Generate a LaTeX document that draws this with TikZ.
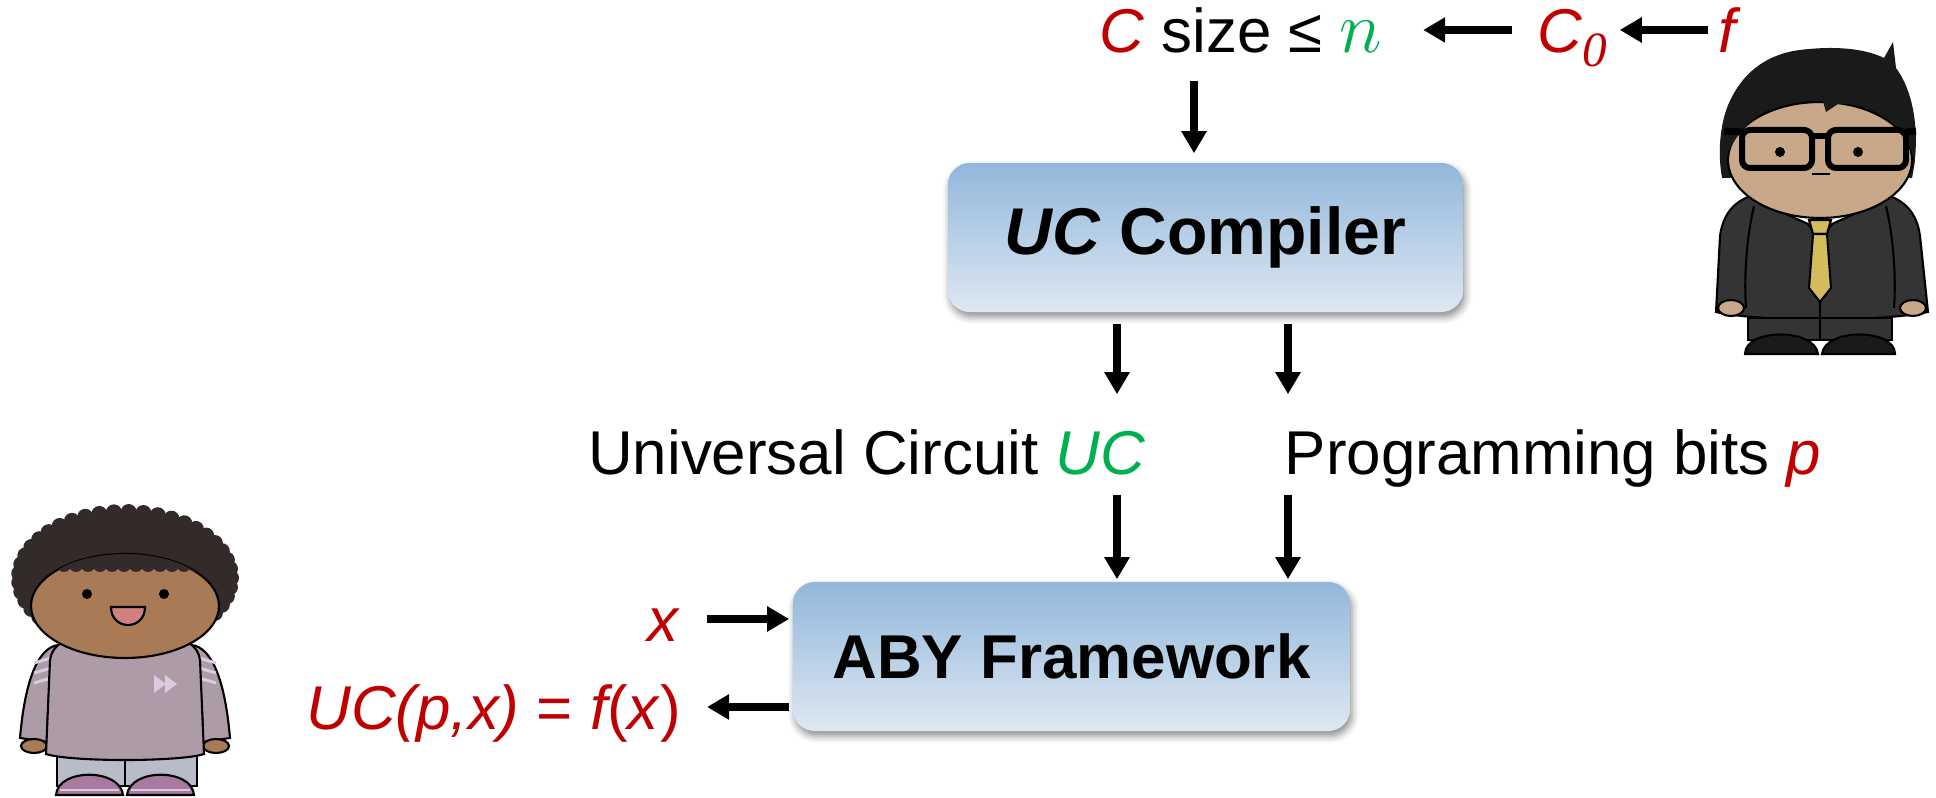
\documentclass[tikz,border=0pt]{standalone}
\usepackage{fontspec}
\setmainfont{Liberation Sans}
\newfontfamily\subfont{Liberation Serif}
\usetikzlibrary{arrows.meta,shadows.blur}
\definecolor{ucred}{RGB}{192,0,0}
\definecolor{ucgreen}{RGB}{0,176,80}
\definecolor{boxtop}{RGB}{146,183,219}
\definecolor{boxbot}{RGB}{222,232,242}
\definecolor{manhair}{RGB}{26,26,26}
\definecolor{manskin}{RGB}{200,168,136}
\definecolor{mansuit}{RGB}{52,52,52}
\definecolor{mantie}{RGB}{212,188,92}
\definecolor{girlhair}{RGB}{51,42,42}
\definecolor{girlskin}{RGB}{168,122,85}
\definecolor{sweater}{RGB}{173,156,168}
\definecolor{stripe}{RGB}{218,204,222}
\definecolor{pants}{RGB}{184,188,200}
\definecolor{shoe}{RGB}{168,122,160}
\definecolor{mouth}{RGB}{208,128,128}
\newcommand{\sub}[1]{\raisebox{-0.22em}{\fontsize{14}{14}\subfont\itshape #1}}
\begin{document}
\begin{tikzpicture}[x=0.01cm,y=-0.01cm,
    lbl/.style={inner sep=0pt, text height=0.5cm, text depth=0.04cm, font=\fontsize{17.6}{20}\selectfont},
    blockbox/.style={rounded corners=0.22cm, top color=boxtop, bottom color=boxbot, draw=none,
      minimum width=5.15cm, minimum height=1.49cm, font=\fontsize{18.8}{20}\selectfont\bfseries,
      blur shadow={shadow xshift=0.02cm, shadow yshift=-0.05cm, shadow blur radius=0.07cm, shadow opacity=45}},
    arr/.style={line width=0.08cm, -{Triangle[length=0.22cm,width=0.24cm]}},
    outl/.style={draw=black, line width=0.6pt}]
    \useasboundingbox (0,0) rectangle (1936,798);
    \coordinate (colT) at (1194,0);
    \coordinate (colA) at (1117,0);
    \coordinate (colB) at (1288,0);

    % top row
    \node[lbl, anchor=base] (csize) at (1241,53) {\textcolor{ucred}{\itshape C} size ≤ \textcolor{ucgreen}{\fontsize{21}{21}\selectfont$n$}};
    \node[lbl, anchor=base west] (c0) at (1537,53) {\textcolor{ucred}{\itshape C\sub{0}}};
    \node[lbl, anchor=base west] (f) at (1718,53) {\textcolor{ucred}{\itshape f}};
    \draw[arr, shorten <=0.1cm, shorten >=0.12cm] (f.west) -- (c0.east);
    \draw[arr, shorten <=0.25cm, shorten >=0.4cm] (c0.west) -- (csize.east);

    % compiler and framework
    \node[blockbox] (comp) at (1205.5,237.5) {\textit{UC} Compiler};
    \node[blockbox, minimum width=5.57cm, font=\fontsize{17.6}{20}\selectfont\bfseries] (aby) at (1071.5,656.5) {ABY Framework};
    \draw[arr, shorten <=0.23cm, shorten >=0.09cm] (csize.south -| colT) -- (comp.north -| colT);

    \node[lbl, anchor=base east] (uc) at (1146,475) {Universal Circuit \textcolor{ucgreen}{\itshape UC}};
    \node[lbl, anchor=base west] (pbits) at (1284,475) {Programming bits \textcolor{ucred}{\itshape p}};
    \draw[arr, shorten <=0.11cm, shorten >=0.3cm] (comp.south -| colA) -- (uc.north -| colA);
    \draw[arr, shorten <=0.11cm, shorten >=0.3cm] (comp.south -| colB) -- (pbits.north -| colB);
    \draw[arr, shorten <=0.15cm, shorten >=0.02cm] (uc.south -| colA) -- (aby.north -| colA);
    \draw[arr, shorten <=0.15cm, shorten >=0.02cm] (pbits.south -| colB) -- (aby.north -| colB);

    % input and output
    \node[lbl, anchor=base east] (xin) at (679,642) {\textcolor{ucred}{\itshape x}};
    \node[lbl, anchor=base east] (ucout) at (682,730) {\textcolor{ucred}{\itshape UC(p,x)} \textcolor{ucred}{=} \textcolor{ucred}{\itshape f}\textcolor{ucred}{(\textit{x})}};
    \draw[arr, shorten <=0.28cm, shorten >=0.03cm] (xin.east) -- (xin.east -| aby.west);
    \draw[arr, shorten <=0.03cm, shorten >=0.25cm] (aby.west |- ucout.east) -- (ucout.east);

    % man on the right
    \filldraw[fill=mansuit, outl] (1716,312) -- (1720,236) .. controls (1724,207) and (1742,194) .. (1772,192)
      -- (1868,192) .. controls (1898,194) and (1916,207) .. (1920,236) -- (1928,312)
      .. controls (1880,322) and (1760,322) .. (1716,312) -- cycle;
    \draw[outl] (1754,206) .. controls (1746,240) and (1744,280) .. (1746,308);
    \draw[outl] (1886,206) .. controls (1894,240) and (1896,280) .. (1894,308);
    \filldraw[fill=manskin, outl] (1731,308) ellipse (13 and 8);
    \filldraw[fill=manskin, outl] (1913,308) ellipse (13 and 8);
    \filldraw[fill=mansuit, outl] (1748,318) rectangle (1892,340);
    \draw[outl] (1820,300) -- (1820,340);
    \filldraw[fill=manhair, outl] (1745,354) .. controls (1745,328) and (1815,328) .. (1818,354) -- cycle;
    \filldraw[fill=manhair, outl] (1822,354) .. controls (1825,328) and (1895,328) .. (1895,354) -- cycle;
    \filldraw[fill=white, outl] (1768,206) -- (1808,224) -- (1820,242) -- (1832,224) -- (1872,206) -- cycle;
    \filldraw[fill=mantie, outl] (1809,220) -- (1831,220) -- (1827,234) -- (1813,234) -- cycle;
    \filldraw[fill=mantie, outl] (1813,234) -- (1827,234) -- (1831,288) -- (1820,302) -- (1809,288) -- cycle;
    \fill[manhair] (1722,178) .. controls (1712,120) and (1735,58) .. (1800,50)
      .. controls (1840,45) and (1868,50) .. (1884,58) -- (1893,42) -- (1896,68)
      .. controls (1916,95) and (1920,140) .. (1912,178) -- cycle;
    \filldraw[fill=manskin, outl] (1820,160) ellipse (92 and 58);
    \fill[manhair] (1723,165) .. controls (1714,115) and (1735,62) .. (1800,56)
      .. controls (1850,52) and (1908,80) .. (1915,165)
      .. controls (1905,120) and (1880,104) .. (1838,104) -- (1826,112) -- (1822,98)
      .. controls (1775,100) and (1740,115) .. (1723,165) -- cycle;
    \draw[line width=0.06cm, rounded corners=0.08cm] (1742,130) rectangle (1812,168);
    \draw[line width=0.06cm, rounded corners=0.08cm] (1828,130) rectangle (1906,168);
    \draw[line width=0.07cm] (1724,131) -- (1742,132);
    \draw[line width=0.07cm] (1906,132) -- (1916,131);
    \draw[line width=0.06cm] (1812,136) -- (1828,136);
    \fill (1780,152) circle (5);
    \fill (1858,152) circle (5);
    \draw[line width=0.8pt] (1812,174) -- (1830,174);

    % girl on the left
    \fill[girlhair] (125,578) ellipse (106 and 66);
    \foreach \a in {0,8,...,352}
      \fill[girlhair] ({125+106*cos(\a)},{578+66*sin(\a)}) circle (8);
    \filldraw[fill=sweater, outl] (58,645) .. controls (38,648) and (25,680) .. (20,738) -- (47,742)
      .. controls (48,700) and (50,670) .. (58,645) -- cycle;
    \filldraw[fill=sweater, outl] (192,645) .. controls (212,648) and (225,680) .. (230,738) -- (203,742)
      .. controls (202,700) and (200,670) .. (192,645) -- cycle;
    \filldraw[fill=girlskin, outl] (34,746) ellipse (13 and 7);
    \filldraw[fill=girlskin, outl] (216,746) ellipse (13 and 7);
    \foreach \d in {0,10,20} {
      \draw[stripe, line width=0.03cm] (34,{663+\d}) -- (51,{658+\d});
      \draw[stripe, line width=0.03cm] (199,{658+\d}) -- (216,{663+\d});
    }
    \filldraw[fill=pants, outl] (57,752) rectangle (197,786);
    \draw[outl] (125,756) -- (125,786);
    \filldraw[fill=sweater, outl] (50,660) .. controls (52,645) and (65,638) .. (85,636) -- (165,636)
      .. controls (185,638) and (198,645) .. (200,660) -- (204,754)
      .. controls (180,762) and (70,762) .. (46,754) -- cycle;
    \fill[stripe] (154,675) -- (154,693) -- (166,684) -- cycle;
    \fill[stripe] (165,675) -- (165,693) -- (177,684) -- cycle;
    \filldraw[fill=shoe, outl] (56,795) .. controls (58,768) and (120,768) .. (123,795) -- cycle;
    \filldraw[fill=shoe, outl] (127,795) .. controls (130,768) and (192,768) .. (194,795) -- cycle;
    \draw[stripe, line width=0.02cm] (60,790) -- (119,790);
    \draw[stripe, line width=0.02cm] (131,790) -- (190,790);
    \filldraw[fill=girlskin, outl] (125,606) ellipse (94 and 52);
    \begin{scope}
      \clip (125,606) ellipse (94 and 52);
      \fill[girlhair] (20,540) rectangle (230,565);
      \foreach \x in {28,40,...,226}
        \fill[girlhair] (\x,565) circle (7);
    \end{scope}
    \fill (87,594) circle (5);
    \fill (164,594) circle (5);
    \filldraw[fill=mouth, outl] (111,607) -- (145,607) .. controls (145,631) and (111,631) .. (111,607) -- cycle;
\end{tikzpicture}
\end{document}
